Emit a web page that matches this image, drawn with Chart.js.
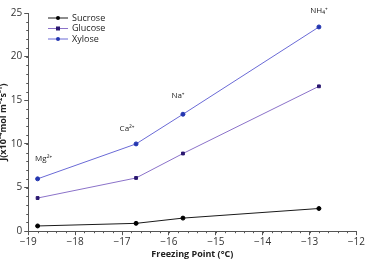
<!DOCTYPE html>
<html>
<head>
<meta charset="utf-8">
<script src="https://cdn.jsdelivr.net/npm/chart.js@4"></script>
<style>
  html, body { margin: 0; padding: 0; background: #fff; }
  #wrap { width: 366px; height: 260px; position: relative; }
</style>
</head>
<body>
<div id="wrap"><canvas id="c"></canvas></div>
<script>
// data
const freezingPoints = [-18.8, -16.7, -15.7, -12.8];
const ionLabels = ["Mg²⁺", "Ca²⁺", "Na⁺", "NH₄⁺"];
const sucrose = [0.6, 0.9, 1.5, 2.6];
const glucose = [3.8, 6.1, 8.9, 16.6];
const xylose = [6.0, 10.0, 13.4, 23.4];
const xTicks = [-19, -18, -17, -16, -15, -14, -13, -12];
const yTicks = [0, 5, 10, 15, 20, 25];

const FONT = "'Open Sans', 'Noto Sans', sans-serif";

function pts(vals) {
  return freezingPoints.map((x, i) => ({ x: x, y: vals[i] }));
}

const series = [
  { label: "Sucrose", data: sucrose, line: "#1a1a1a", mark: "#000000", style: "circle" },
  { label: "Glucose", data: glucose, line: "#8b72c9", mark: "#2b1870", style: "rect" },
  { label: "Xylose", data: xylose, line: "#6a6ad6", mark: "#2436b0", style: "circle" },
];

// label nudges (px) relative to each xylose point
const labelDx = [6, -9, -5, 0];
const labelDy = [-20, -15, -19, -16];

// minor ticks, ion labels and legend
const extras = {
  id: "extras",
  afterDraw(chart) {
    const ctx = chart.ctx;
    const xs = chart.scales.x, ys = chart.scales.y;
    const area = chart.chartArea;
    ctx.save();
    ctx.strokeStyle = "#555";
    ctx.lineWidth = 1;
    // minor x ticks
    for (let v = -19; v <= -12.001; v += 0.2) {
      const px = Math.round(xs.getPixelForValue(v)) + 0.5;
      ctx.beginPath();
      ctx.moveTo(px, area.bottom);
      ctx.lineTo(px, area.bottom + 2);
      ctx.stroke();
    }
    // minor y ticks
    for (let v = 0; v <= 25; v += 1) {
      const py = Math.round(ys.getPixelForValue(v)) + 0.5;
      ctx.beginPath();
      ctx.moveTo(area.left, py);
      ctx.lineTo(area.left - 2, py);
      ctx.stroke();
    }
    // ion labels above xylose points
    ctx.fillStyle = "#222";
    ctx.font = "8px " + FONT;
    ctx.textAlign = "center";
    ctx.textBaseline = "middle";
    ionLabels.forEach((lab, i) => {
      const px = xs.getPixelForValue(freezingPoints[i]);
      const py = ys.getPixelForValue(xylose[i]);
      ctx.fillText(lab, px + labelDx[i], py + labelDy[i]);
    });
    // legend
    ctx.font = "9px " + FONT;
    ctx.textAlign = "left";
    ctx.textBaseline = "middle";
    series.forEach((s, i) => {
      const y = 18 + i * 10.5;
      ctx.strokeStyle = s.line;
      ctx.beginPath();
      ctx.moveTo(48, y);
      ctx.lineTo(68, y);
      ctx.stroke();
      ctx.fillStyle = s.mark;
      if (s.style === "rect") ctx.fillRect(56, y - 2, 4, 4);
      else { ctx.beginPath(); ctx.arc(58, y, 2, 0, Math.PI * 2); ctx.fill(); }
      ctx.fillStyle = "#222";
      ctx.fillText(s.label, 72, y);
    });
    ctx.restore();
  },
};

new Chart(document.getElementById("c"), {
  type: "line",
  data: {
    datasets: series.map((s) => ({
      label: s.label,
      data: pts(s.data),
      borderColor: s.line,
      backgroundColor: s.mark,
      pointBackgroundColor: s.mark,
      pointBorderColor: s.mark,
      pointStyle: s.style,
      pointRadius: 2,
      borderWidth: 1,
      tension: 0,
    })),
  },
  options: {
    responsive: true,
    maintainAspectRatio: false,
    animation: false,
    layout: { padding: { top: 13, right: 0, left: -2, bottom: 0 } },
    plugins: {
      legend: { display: false },
      tooltip: { enabled: false },
    },
    scales: {
      x: {
        type: "linear",
        min: -19,
        max: -12,
        afterBuildTicks: (axis) => { axis.ticks = xTicks.map((v) => ({ value: v })); },
        ticks: {
          color: "#333",
          font: { family: FONT, size: 10 },
          padding: 1,
          callback: (v) => (v < 0 ? "\u2212" + Math.abs(v) : String(v)),
        },
        grid: { drawOnChartArea: false, tickLength: 4, color: "#555" },
        border: { color: "#555" },
        title: {
          display: true,
          text: "Freezing Point (°C)",
          color: "#222",
          font: { family: FONT, size: 9, weight: "bold" },
          padding: { top: 0, bottom: 0 },
        },
      },
      y: {
        min: 0,
        max: 25,
        afterBuildTicks: (axis) => { axis.ticks = yTicks.map((v) => ({ value: v })); },
        ticks: {
          color: "#333",
          font: { family: FONT, size: 10 },
          padding: 2,
        },
        grid: { drawOnChartArea: false, tickLength: 4, color: "#555" },
        border: { color: "#555" },
        title: {
          display: true,
          text: "J(x10⁻⁴mol m⁻²s⁻¹)",
          color: "#222",
          font: { family: FONT, size: 9, weight: "bold" },
          padding: { top: 0, bottom: 0 },
        },
      },
    },
  },
  plugins: [extras],
});
</script>
</body>
</html>
